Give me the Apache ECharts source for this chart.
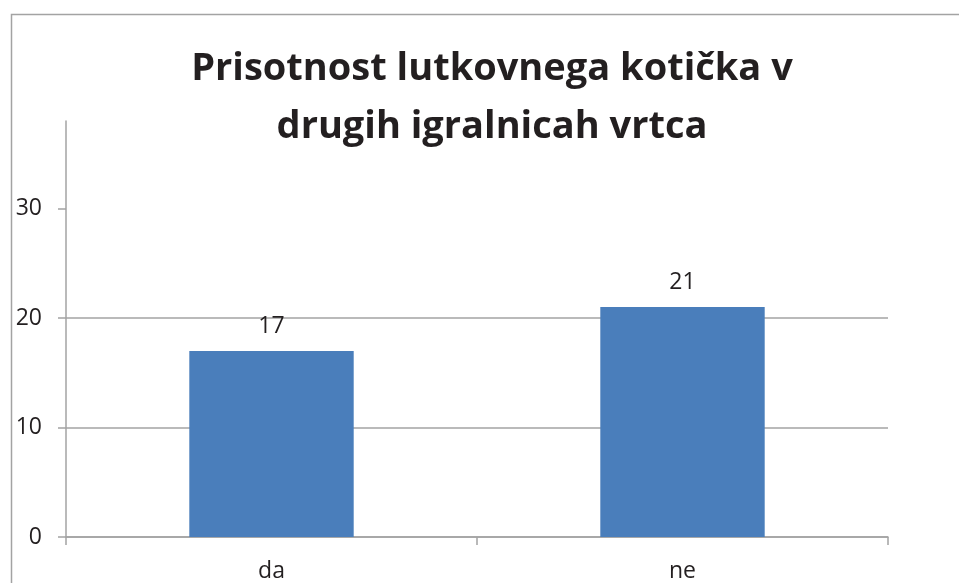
<!DOCTYPE html>
<html>
<head>
<meta charset="utf-8">
<script src="https://cdn.jsdelivr.net/npm/echarts@6/dist/echarts.min.js"></script>
<style>
  html, body { margin: 0; padding: 0; background: #fff; }
  #chart { width: 959px; height: 583px; }
</style>
</head>
<body>
<div id="chart"></div>
<script>
// podatki
const categories = ["da", "ne"];
const values = [17, 21];
const yTicks = [0, 10, 20, 30];
const titleText = "Prisotnost lutkovnega kotička v\ndrugih igralnicah vrtca";

const axisGrey = "#a3a3a3";
const textColor = "#231f20";

const chart = echarts.init(document.getElementById("chart"));
const option = {
  backgroundColor: "#fff",
  animation: false,
  graphic: [
    {
      // okvir grafikona
      type: "rect",
      shape: { x: 11.5, y: 14.5, width: 1000, height: 1000 },
      style: { fill: "none", stroke: axisGrey, lineWidth: 1.5 },
      silent: true
    }
  ],
  title: {
    text: titleText,
    left: 487,
    textAlign: "center",
    top: 35,
    textStyle: {
      fontFamily: "Open Sans",
      fontWeight: "bold",
      fontSize: 38,
      lineHeight: 58,
      color: textColor
    }
  },
  grid: {
    left: 66,
    right: 71,
    top: 121,
    bottom: 45
  },
  xAxis: {
    type: "category",
    data: categories,
    axisLine: { lineStyle: { color: axisGrey, width: 1.5 } },
    axisTick: { show: true, length: 8, lineStyle: { color: axisGrey, width: 1.5 } },
    axisLabel: {
      margin: 23,
      fontFamily: "Open Sans",
      fontSize: 23,
      color: textColor
    }
  },
  yAxis: {
    type: "value",
    min: 0,
    max: 38,
    interval: 10,
    axisLine: { show: true, lineStyle: { color: axisGrey, width: 1.5 } },
    axisTick: {
      show: true,
      length: 8,
      customValues: yTicks,
      lineStyle: { color: axisGrey, width: 1.5 }
    },
    splitLine: {
      show: true,
      showMaxLine: false,
      lineStyle: { color: axisGrey, width: 1.5 }
    },
    axisLabel: {
      margin: 24,
      customValues: yTicks,
      fontFamily: "Open Sans",
      fontSize: 23,
      color: textColor
    }
  },
  series: [
    {
      type: "bar",
      data: values,
      barWidth: "40%",
      itemStyle: { color: "#4a7ebb" },
      label: {
        show: true,
        position: "top",
        distance: 13,
        fontFamily: "Open Sans",
        fontSize: 23,
        color: textColor
      }
    }
  ]
};
chart.setOption(option);
window.addEventListener("resize", () => chart.resize(), false);
</script>
</body>
</html>
